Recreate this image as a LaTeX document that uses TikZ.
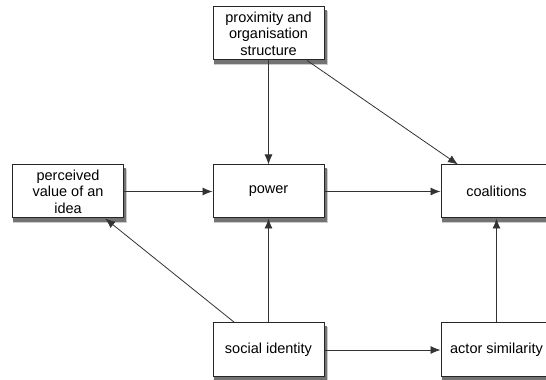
\documentclass[tikz,border=0pt]{standalone}
\usepackage{fontspec}
\setmainfont{Liberation Sans}
\usepackage{tikz}
\usetikzlibrary{positioning,calc,backgrounds,arrows.meta}

\tikzset{
    factor/.style={draw=black!85, line width=1pt, fill=white, minimum width=111pt, minimum height=53pt,
        align=center, font=\fontsize{14.5}{16.5}\selectfont, inner sep=2pt},
    link/.style={draw=black!80, line width=0.8pt, -{Latex[length=10pt,width=8pt]}}
}

\begin{document}
\begin{tikzpicture}[x=1pt, y=1pt]
    \useasboundingbox (0,0) rectangle (546,380);

    % Boxes
    \node [factor] (prox)   at (268.5,346.5) {proximity and\\organisation\\structure};
    \node [factor] (idea)   at (68,188.5)    {perceived\\value of an\\idea};
    \node [factor] (power)  at (268.5,188.5) {power};
    \node [factor] (coal)   at (496.5,188.5) {coalitions};
    \node [factor, minimum height=54pt] (social) at (268.5,30) {social identity};
    \node [factor, minimum height=54pt] (actor)  at (496.5,30) {actor similarity};

    % Shadows under the boxes
    \begin{scope}[on background layer]
        \foreach \n in {prox,idea,power,coal,social,actor} {
            \fill [black!20] ($(\n.south west)+(1,-5)$) rectangle ($(\n.north east)+(3,-5)$);
            \fill [black!55] ($(\n.south west)+(1,-3.5)$) rectangle ($(\n.north east)+(2,-3.5)$);
        }
    \end{scope}

    % Influences
    \draw [link] (prox) -- (power);
    \draw [link] (prox.-35) -- (coal.145);
    \draw [link] (idea) -- (power);
    \draw [link] (power) -- (coal);
    \draw [link] (social.141) -- (idea.-36);
    \draw [link] (social) -- (power);
    \draw [link] (social) -- (actor);
    \draw [link] (actor) -- (coal);
\end{tikzpicture}
\end{document}
